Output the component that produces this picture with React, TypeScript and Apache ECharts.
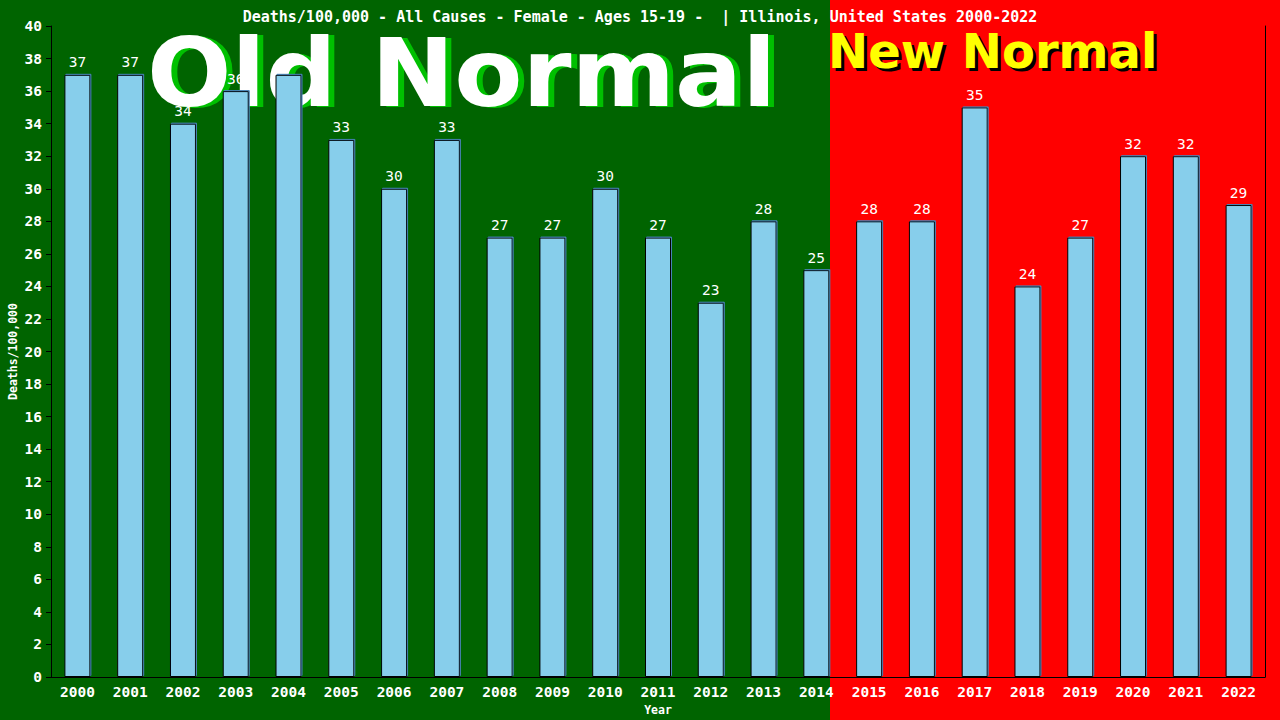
import React, { useEffect, useRef } from 'react';
import * as echarts from 'echarts';

const years = [
  '2000', '2001', '2002', '2003', '2004', '2005', '2006', '2007', '2008', '2009', '2010', '2011',
  '2012', '2013', '2014', '2015', '2016', '2017', '2018', '2019', '2020', '2021', '2022'
];
const deathsPer100k = [37, 37, 34, 36, 37, 33, 30, 33, 27, 27, 30, 27, 23, 28, 25, 28, 28, 35, 24, 27, 32, 32, 29];

const title = 'Deaths/100,000 - All Causes - Female - Ages 15-19 -  | Illinois, United States 2000-2022';
const mono = '"DejaVu Sans Mono", "Liberation Mono", monospace';

export default function App() {
  const chartRef = useRef<HTMLDivElement>(null);

  useEffect(() => {
    if (!chartRef.current) return;
    document.body.style.margin = '0';
    const chart = echarts.init(chartRef.current, null, { renderer: 'svg' });

    const option: echarts.EChartsOption = {
      animation: false,
      backgroundColor: '#006400',
      title: {
        text: title,
        left: 'center',
        top: 4,
        textStyle: { color: '#fff', fontFamily: mono, fontSize: 15, fontWeight: 'bold' }
      },
      graphic: [
        { type: 'rect', left: 830, top: 0, shape: { width: 450, height: 720 }, style: { fill: '#ff0000' }, z: -10 },
        // big banner texts sit under the bars
        {
          type: 'text', x: 153, y: 27, scaleX: 1.046, z: 0,
          style: { text: 'Old Normal', fill: '#00c000', font: 'bold 95px "DejaVu Sans", sans-serif' }
        },
        {
          type: 'text', x: 147, y: 26, scaleX: 1.046, z: 1,
          style: { text: 'Old Normal', fill: '#ffffff', font: 'bold 95px "DejaVu Sans", sans-serif' }
        },
        {
          type: 'text', x: 831, y: 30, z: 0,
          style: { text: 'New Normal', fill: '#000000', font: 'bold 48px "DejaVu Sans", sans-serif' }
        },
        {
          type: 'text', x: 828, y: 27, z: 1,
          style: { text: 'New Normal', fill: '#ffff00', font: 'bold 48px "DejaVu Sans", sans-serif' }
        }
      ],
      grid: { left: 51, right: 15, top: 26, bottom: 43, outerBoundsMode: 'none' } as any,
      xAxis: {
        type: 'category',
        data: years,
        name: 'Year',
        nameLocation: 'middle',
        nameGap: 26,
        nameTextStyle: { color: '#fff', fontFamily: mono, fontSize: 11.5, fontWeight: 'bold' },
        axisLine: { lineStyle: { color: '#000', width: 1 } },
        axisTick: { show: false },
        axisLabel: { color: '#fff', fontFamily: mono, fontSize: 14.5, fontWeight: 'bold', margin: 7 }
      },
      yAxis: [
        {
          type: 'value',
          min: 0,
          max: 40,
          interval: 2,
          name: 'Deaths/100,000',
          nameLocation: 'middle',
          nameGap: 32,
          nameMoveOverlap: false,
          nameTextStyle: { color: '#fff', fontFamily: mono, fontSize: 11.5, fontWeight: 'bold' },
          axisLine: { show: true, lineStyle: { color: '#000', width: 1 } },
          axisTick: { show: true, length: 5, lineStyle: { color: '#000' } },
          axisLabel: { color: '#fff', fontFamily: mono, fontSize: 14.5, fontWeight: 'bold', margin: 9 },
          splitLine: { show: false }
        } as any,
        {
          type: 'value',
          min: 0,
          max: 40,
          interval: 2,
          position: 'right',
          axisLine: { show: true, lineStyle: { color: '#000', width: 1 } },
          axisTick: { show: false },
          axisLabel: { show: false },
          splitLine: { show: false }
        }
      ],
      series: [
        {
          type: 'bar',
          data: deathsPer100k,
          barWidth: 26,
          z: 5,
          itemStyle: {
            color: '#87ceeb',
            borderColor: '#000',
            borderWidth: 1,
            shadowColor: '#4682b4',
            shadowOffsetX: 1,
            shadowOffsetY: -1,
            shadowBlur: 0
          },
          label: {
            show: true,
            position: 'top',
            distance: 5,
            color: '#fff',
            fontFamily: mono,
            fontSize: 14.5
          }
        }
      ]
    };

    chart.setOption(option);
    return () => chart.dispose();
  }, []);

  return <div ref={chartRef} style={{ position: 'fixed', left: 0, top: 0, width: 1280, height: 720 }} />;
}
